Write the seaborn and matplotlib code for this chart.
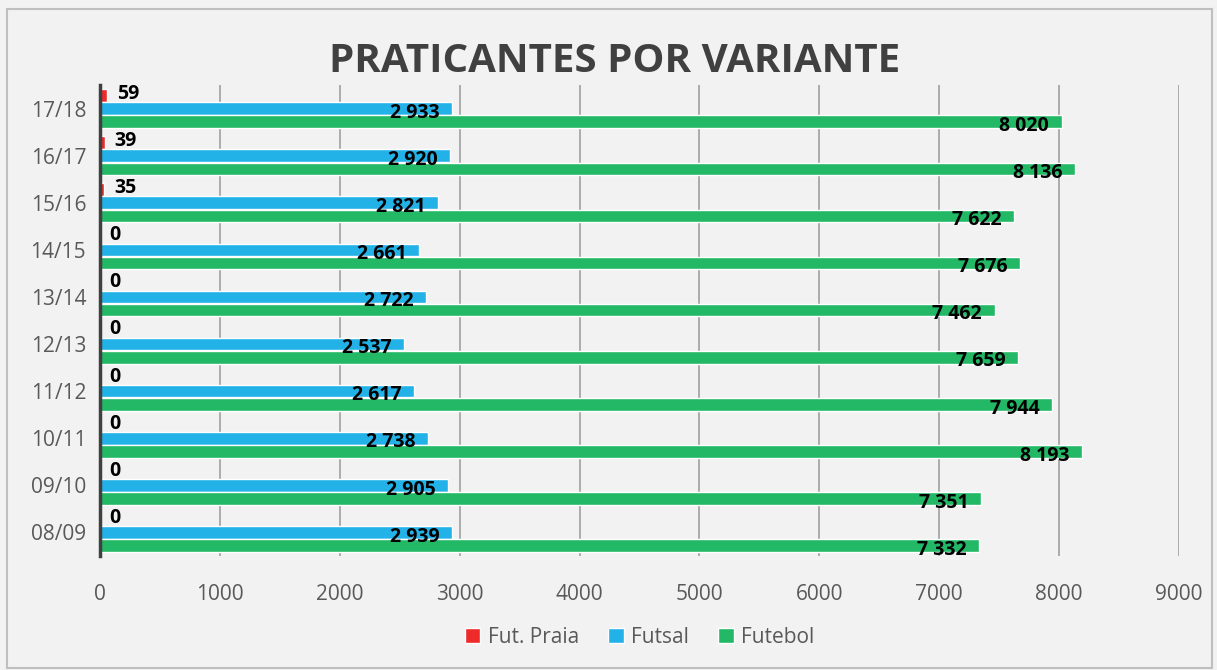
import pandas as pd
import seaborn as sns
import matplotlib.pyplot as plt
from matplotlib.patches import Rectangle

# data (top to bottom as in the chart)
epocas = ['17/18', '16/17', '15/16', '14/15', '13/14', '12/13', '11/12', '10/11', '09/10', '08/09']
fut_praia = [59, 39, 35, 0, 0, 0, 0, 0, 0, 0]
futsal = [2933, 2920, 2821, 2661, 2722, 2537, 2617, 2738, 2905, 2939]
futebol = [8020, 8136, 7622, 7676, 7462, 7659, 7944, 8193, 7351, 7332]
variantes = ['Fut. Praia', 'Futsal', 'Futebol']
cores = ['#EE2A2A', '#22B2E8', '#22B866']

df = pd.DataFrame({'Época': epocas, 'Fut. Praia': fut_praia,
                   'Futsal': futsal, 'Futebol': futebol})
df = df.melt(id_vars='Época', var_name='Variante', value_name='Praticantes')

sns.set_theme(style='white')
plt.rcParams['font.family'] = ['Open Sans', 'DejaVu Sans']

fig = plt.figure(figsize=(12.17, 6.70), dpi=100, facecolor='#F2F2F2')
fig.patches.append(Rectangle((7 / 1217, 0.003), 1205 / 1217, 1 - 9 / 670 - 0.003,
                             transform=fig.transFigure, fill=False,
                             edgecolor='#BFBFBF', linewidth=1.5))
ax = fig.add_axes([100 / 1217, 1 - 556 / 670, 1079 / 1217, 471 / 670])
ax.set_facecolor('#F2F2F2')

sns.barplot(data=df, y='Época', x='Praticantes', hue='Variante', order=epocas,
            hue_order=variantes, palette=cores, orient='h', width=0.84,
            gap=0.05, ax=ax, legend=True, saturation=1)

ax.set_xlim(0, 9000)
ax.set_xticks(range(0, 9001, 1000))
ax.grid(axis='x', color='#A6A6A6', linewidth=1.3)
ax.set_axisbelow(True)
for s in ['top', 'right', 'bottom']:
    ax.spines[s].set_visible(False)
ax.spines['left'].set_color('#404040')
ax.spines['left'].set_linewidth(2.5)
ax.tick_params(axis='both', length=0, labelsize=15, labelcolor='#595959')
ax.tick_params(axis='x', pad=20)
ax.tick_params(axis='y', pad=10)
ax.set_xlabel('')
ax.set_ylabel('')


def fmt(v):
    return f'{v:,}'.replace(',', ' ')


for cont, nome in zip(ax.containers, variantes):
    for bar in cont:
        v = bar.get_width()
        yc = bar.get_y() + bar.get_height() / 2
        if nome == 'Fut. Praia':
            ax.annotate(fmt(int(v)), (v, yc), xytext=(7, 1), textcoords='offset points',
                        ha='left', va='center', fontsize=14, fontweight='bold', color='black')
        else:
            ax.annotate(fmt(int(v)), (v, yc), xytext=(-9, -3), textcoords='offset points',
                        ha='right', va='center', fontsize=14, fontweight='bold', color='black')

leg = ax.legend(loc='upper center', bbox_to_anchor=(0.5, -0.11), ncol=3, frameon=False,
                fontsize=15, handlelength=0.75, handleheight=0.75, handletextpad=0.35,
                columnspacing=1.4)
for t in leg.get_texts():
    t.set_color('#595959')

fig.text(0.505, 1 - 61 / 670, 'PRATICANTES POR VARIANTE', ha='center', va='center',
         fontsize=29, fontweight='bold', color='#404040')

fig.savefig('out.png', dpi=100, facecolor=fig.get_facecolor())
